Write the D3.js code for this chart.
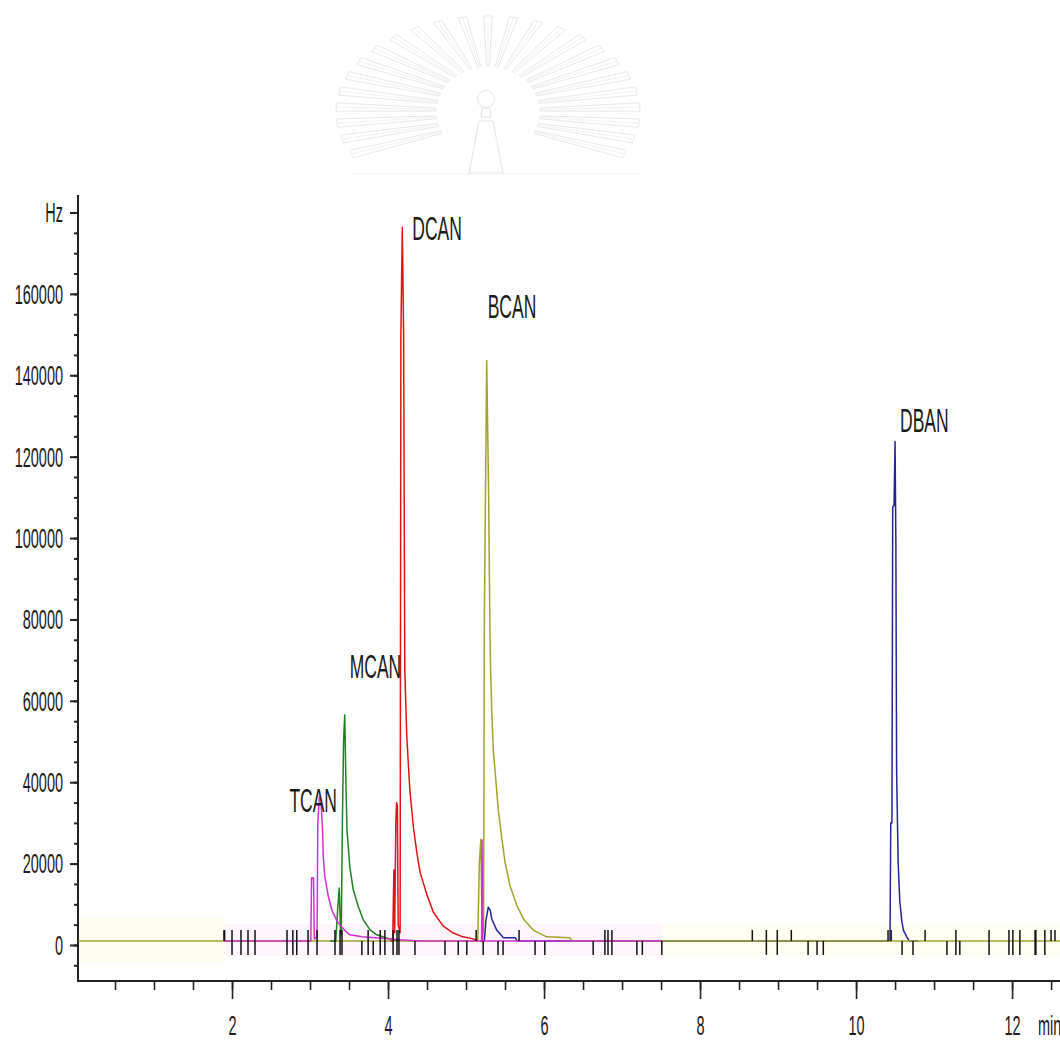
<!DOCTYPE html>
<html>
<head>
<meta charset="utf-8">
<script src="https://cdn.jsdelivr.net/npm/d3@7"></script>
<style>
  html, body { margin: 0; padding: 0; background: #fff; }
  svg { display: block; }
  text { font-family: "Liberation Sans", Arial, sans-serif; fill: #1a1a1a; }
</style>
</head>
<body>
<svg id="chart" width="1060" height="1043"></svg>
<script>
// ---- Chromatogram traces: [retention time (min), response (Hz)] ----
const tcanTrace = [
  [1.90,1000],[3.01,1000],[3.02,16500],[3.045,16500],[3.055,1500],[3.09,2000],
  [3.10,30000],[3.12,36400],[3.14,35500],[3.16,28300],[3.17,21700],[3.19,16800],
  [3.235,11900],[3.28,8600],[3.34,6100],[3.385,4900],[3.45,3500],[3.51,2500],
  [3.67,2000],[3.96,1600],[4.15,1300],[4.41,1000],[5.20,1000],[5.205,25800],
  [5.215,1000],[7.51,1000]
];
const mcanTrace = [
  [3.26,1000],[3.33,1000],[3.355,9000],[3.375,14000],[3.39,4000],[3.40,2500],
  [3.415,30000],[3.43,50000],[3.445,56500],[3.46,40000],[3.475,28000],[3.51,19200],
  [3.555,13500],[3.62,9400],[3.685,6100],[3.77,3700],[3.855,2500],[3.98,1700],
  [4.09,1200],[4.15,1000]
];
const dcanTrace = [
  [4.03,1000],[4.06,1000],[4.075,18400],[4.085,3000],[4.10,30000],[4.11,35000],
  [4.12,34000],[4.13,5000],[4.155,3000],[4.165,150000],[4.183,176400],[4.20,150000],
  [4.215,67600],[4.24,51400],[4.28,38000],[4.325,29000],[4.37,22600],[4.41,17900],
  [4.50,12300],[4.58,8100],[4.705,4700],[4.83,3000],[4.96,2000],[5.09,1500],[5.15,1000]
];
const bcanTrace = [
  [0.03,1000],[5.15,1000],[5.17,20000],[5.19,26000],[5.20,12000],[5.225,3000],
  [5.235,80000],[5.265,143600],[5.29,110000],[5.305,80000],[5.315,67600],[5.33,57200],
  [5.35,47900],[5.385,39800],[5.415,32900],[5.46,26000],[5.50,20300],[5.565,14500],
  [5.65,9800],[5.735,6400],[5.865,3600],[6.035,2000],[6.33,1800],[6.36,1000],[12.64,1000]
];
const dbanTrace = [
  [5.18,1000],[5.235,1000],[5.255,6000],[5.285,9300],[5.31,8500],[5.33,6400],
  [5.395,3600],[5.48,1800],[5.63,1800],[5.655,1000],[10.435,1000],[10.445,30000],
  [10.46,30000],[10.47,107700],[10.487,108000],[10.50,123700],[10.51,99500],
  [10.52,42300],[10.54,20100],[10.56,11000],[10.585,6100],[10.605,3700],
  [10.65,2000],[10.68,1000],[10.80,1000]
];

// Integration event marks on the baseline: [time, 'u' above | 'd' below | 'b' both]
const eventMarks = [
  [1.897,'u'],[1.905,'u'],[2.0,'b'],[2.115,'b'],[2.205,'b'],[2.295,'b'],
  [2.705,'b'],[2.78,'b'],[2.83,'b'],[2.975,'b'],[3.09,'b'],
  [3.32,'b'],[3.385,'b'],[3.41,'b'],
  [3.665,'d'],[3.745,'b'],[3.81,'d'],[3.90,'b'],[3.96,'b'],[4.065,'b'],[4.115,'b'],[4.14,'b'],
  [4.345,'d'],[4.73,'d'],[4.90,'d'],[5.01,'d'],[5.13,'u'],[5.22,'d'],[5.41,'d'],[5.475,'d'],
  [5.68,'u'],[5.885,'d'],[6.01,'d'],
  [6.63,'d'],[6.78,'b'],[6.82,'b'],[6.87,'b'],[7.19,'d'],[7.26,'d'],[7.51,'d'],
  [8.67,'u'],[8.85,'b'],[8.99,'b'],[9.17,'u'],[9.385,'d'],[9.50,'d'],[9.58,'d'],
  [10.41,'u'],[10.45,'u'],[10.59,'d'],[10.73,'d'],[10.885,'u'],
  [11.165,'d'],[11.28,'b'],[11.33,'d'],[11.705,'b'],[11.96,'b'],[12.01,'b'],[12.10,'b'],
  [12.295,'b'],[12.305,'b'],[12.42,'b'],[12.50,'u'],[12.55,'u']
];

// Axis ticks and labels
const yTickValues = [0,20000,40000,60000,80000,100000,120000,140000,160000,180000];
const yTickLabels = ["0","20000","40000","60000","80000","100000","120000","140000","160000","Hz"];
const xTickValues = [2,4,6,8,10,12];
const xUnitLabel = "min";

// Peak names, attached to their traces
const peakNames = ["TCAN","MCAN","DCAN","BCAN","DBAN"];
const baselineLevel = 1000;

// ---------------------------------------------------------------------------
const svg = d3.select("#chart");
const W = 1060, H = 1043;

const x = d3.scaleLinear().domain([0, 12.64]).range([76, 1062]);
const y = d3.scaleLinear().domain([-8850, 184300]).range([981, 195]);
const axisX = 78, axisY = 981;

// ---- faint emblem in the page background ----
(function emblem() {
  const defs = svg.append("defs");
  defs.append("clipPath").attr("id", "emblemClip")
    .append("rect").attr("x", 300).attr("y", 0).attr("width", 400).attr("height", 174);
  defs.append("filter").attr("id", "soft")
    .append("feGaussianBlur").attr("stdDeviation", 0.6);
  const g = svg.append("g").attr("filter", "url(#soft)");
  const cx = 488, cy = 112;
  const rays = g.append("g").attr("clip-path", "url(#emblemClip)");
  const n = 25;
  for (let i = 0; i < n; i++) {
    const th = (-26 + i * (232 / (n - 1))) * Math.PI / 180;
    const c = Math.cos(th), s = Math.sin(th);
    const ix = cx + 52 * c, iy = cy - 46 * s;
    const ox = cx + 152 * c, oy = cy - 96 * s;
    const px = s, py = c;
    const wi = 1.5, wo = 4.2;
    const pts = [
      [ix + px * wi, iy + py * wi], [ox + px * wo, oy + py * wo],
      [ox - px * wo, oy - py * wo], [ix - px * wi, iy - py * wi]
    ];
    rays.append("path")
      .attr("d", "M" + pts.map(p => p.join(",")).join("L") + "Z")
      .attr("fill", "#fff").attr("stroke", "#e6e6e6").attr("stroke-width", 1);
    rays.append("line")
      .attr("x1", ix).attr("y1", iy).attr("x2", ox).attr("y2", oy)
      .attr("stroke", "#f1f1f1").attr("stroke-width", 1);
  }
  const fig = g.append("g")
    .attr("fill", "#fff").attr("stroke", "#e2e2e2").attr("stroke-width", 1);
  fig.append("circle").attr("cx", 486).attr("cy", 99).attr("r", 8.5);
  fig.append("path").attr("d", "M482,108 L490,108 L491,117 L481,117 Z");
  fig.append("path").attr("d", "M479,121 L493,121 L503,173 L469,173 Z");
  fig.append("line").attr("x1", 350).attr("x2", 640).attr("y1", 174).attr("y2", 174)
    .attr("stroke", "#f2f2f2");
})();

// ---- faint colour bleed around the baseline ----
const bands = svg.append("g");
bands.append("rect").attr("x", axisX + 1).attr("y", 918).attr("width", 146).attr("height", 44).attr("fill", "#fffdf1");
bands.append("rect").attr("x", 225).attr("y", 924).attr("width", 437).attr("height", 32).attr("fill", "#fef6fd");
bands.append("rect").attr("x", 662).attr("y", 924).attr("width", 398).attr("height", 32).attr("fill", "#fffef3");

// ---- axes ----
// Y axis: minor ticks every 5000, labelled majors every 20000
const gy = svg.append("g").attr("transform", `translate(${axisX},0)`);
gy.call(d3.axisLeft(y).tickValues(d3.range(-5000, 184001, 5000)).tickSize(4).tickFormat(""))
  .call(g => g.select(".domain").remove())
  .call(g => g.selectAll("line").attr("stroke", "#222").attr("stroke-width", 2));
const gyMajor = svg.append("g").attr("transform", `translate(${axisX},0)`);
gyMajor.call(d3.axisLeft(y).tickValues(yTickValues).tickSize(8).tickPadding(7)
    .tickFormat((d, i) => yTickLabels[i]))
  .call(g => g.select(".domain").remove())
  .call(g => g.selectAll("line").attr("stroke", "#222").attr("stroke-width", 2))
  .call(g => g.selectAll("text")
    .attr("font-family", null)
    .style("font-size", "14.5px").attr("fill", "#1a1a1a")
    .attr("dy", "0.33em")
    .attr("transform", "scale(1,1.95)"));
svg.append("line").attr("x1", axisX).attr("x2", axisX).attr("y1", 195).attr("y2", axisY + 1)
  .attr("stroke", "#222").attr("stroke-width", 2);

// X axis: minor ticks every 0.5 min, labelled majors
const gx = svg.append("g").attr("transform", `translate(0,${axisY})`);
gx.call(d3.axisBottom(x).tickValues(d3.range(0.5, 12.64, 0.5)).tickSize(9).tickFormat(""))
  .call(g => g.select(".domain").remove())
  .call(g => g.selectAll("line").attr("stroke", "#222").attr("stroke-width", 1.6));
const gxMajor = svg.append("g").attr("transform", `translate(0,${axisY})`);
gxMajor.call(d3.axisBottom(x).tickValues(xTickValues).tickSize(18).tickFormat(d3.format("d")))
  .call(g => g.select(".domain").remove())
  .call(g => g.selectAll("line").attr("stroke", "#222").attr("stroke-width", 1.6))
  .call(g => g.selectAll("text")
    .attr("font-family", null)
    .style("font-size", "14.5px").attr("fill", "#1a1a1a")
    .attr("y", 0).attr("dy", "0.33em")
    .attr("transform", "translate(0,45) scale(1,1.95)"));
svg.append("line").attr("x1", axisX - 1).attr("x2", W).attr("y1", axisY).attr("y2", axisY)
  .attr("stroke", "#222").attr("stroke-width", 2);
svg.append("text").text(xUnitLabel)
  .attr("transform", `translate(1038,${axisY + 45}) scale(1,1.95)`)
  .attr("dy", "0.33em").style("font-size", "14.5px");

// ---- traces ----
const line = d3.line().x(d => x(d[0])).y(d => y(d[1]));
const traces = [
  { name: "DBAN", data: dbanTrace, color: "#23239c" },
  { name: "BCAN", data: bcanTrace, color: "#a2a22c" },
  { name: "MCAN", data: mcanTrace, color: "#1e801e" },
  { name: "DCAN", data: dcanTrace, color: "#e31212" },
  { name: "TCAN", data: tcanTrace, color: "#d22ed2" }
];
svg.append("g").selectAll("path").data(traces).join("path")
  .attr("d", d => line(d.data))
  .attr("fill", "none")
  .attr("stroke", d => d.color)
  .attr("stroke-width", 1.5)
  .attr("stroke-linejoin", "round");

// ---- integration event marks ----
const by = y(baselineLevel);
svg.append("g").selectAll("line").data(eventMarks).join("line")
  .attr("x1", d => x(d[0])).attr("x2", d => x(d[0]))
  .attr("y1", d => d[1] === "d" ? by : by - 11)
  .attr("y2", d => d[1] === "u" ? by : by + 14)
  .attr("stroke", "#111").attr("stroke-width", 1.5);

// ---- peak labels, placed next to each trace's apex ----
const labelOffset = {
  TCAN: [-30, 15], MCAN: [5, -37], DCAN: [10, 13], BCAN: [1, -43], DBAN: [5, -10]
};
const apexes = peakNames.map(n => {
  const t = traces.find(d => d.name === n);
  const pts = n === "DBAN" ? t.data.filter(p => p[0] > 8) : t.data;
  const top = pts.reduce((a, b) => (b[1] > a[1] ? b : a));
  return { name: n, t: top[0], v: top[1] };
});
svg.append("g").selectAll("text").data(apexes).join("text")
  .text(d => d.name)
  .attr("transform", d => `translate(${x(d.t) + labelOffset[d.name][0]},${y(d.v) + labelOffset[d.name][1]}) scale(1,1.95)`)
  .style("font-size", "17.5px");
</script>
</body>
</html>
